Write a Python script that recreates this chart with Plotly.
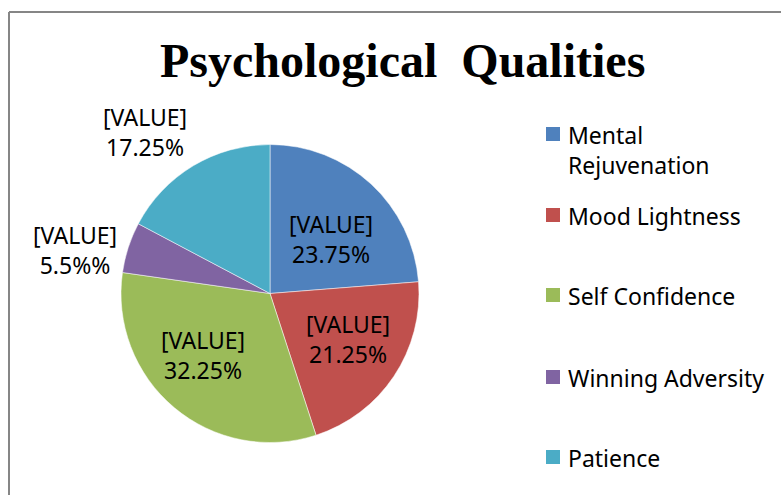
import plotly.graph_objects as go

W, H = 781, 495

qualities = ['Mental Rejuvenation', 'Mood Lightness', 'Self Confidence',
             'Winning Adversity', 'Patience']
legend_names = ['Mental<br>Rejuvenation', 'Mood Lightness', 'Self Confidence',
                'Winning Adversity', 'Patience']
values = [23.75, 21.25, 32.25, 5.5, 17.25]
pct_text = ['23.75%', '21.25%', '32.25%', '5.5%%', '17.25%']
colors = ['#4F81BD', '#C0504D', '#9BBB59', '#8064A2', '#4BACC6']

font_body = 'Noto Sans'

# pie geometry in pixels
cx, cy, r = 270, 293.5, 149
# data label block centres (pixels), placed like the original
label_pos = [(331, 239), (348, 339), (203, 355), (75, 250), (145, 132)]

fig = go.Figure(go.Pie(
    labels=qualities,
    values=values,
    textinfo='none',
    marker=dict(colors=colors, line=dict(color='rgba(255,255,255,0.5)', width=1)),
    sort=False,
    direction='clockwise',
    rotation=0,
    showlegend=False,
    hoverinfo='label+value',
    domain=dict(x=[(cx - r) / W, (cx + r) / W],
                y=[(H - cy - r) / H, (H - cy + r) / H]),
))

annotations = [dict(
    text='<b>Psychological  Qualities</b>',
    x=402 / W, y=1 - 60 / H, xref='paper', yref='paper',
    xanchor='center', yanchor='middle', showarrow=False,
    font=dict(family='Liberation Serif', size=48, color='#000000'),
)]

for t, (px_, py_) in zip(pct_text, label_pos):
    annotations.append(dict(
        text='[VALUE]<br>' + t, x=px_ / W, y=1 - py_ / H,
        xref='paper', yref='paper', xanchor='center', yanchor='middle',
        align='center', showarrow=False,
        font=dict(family=font_body, size=23, color='#000000'),
    ))

shapes = [
    # chart border (left and top only visible)
    dict(type='line', xref='paper', yref='paper',
         x0=9 / W, x1=1.01, y0=1 - 12 / H, y1=1 - 12 / H,
         line=dict(color='#868686', width=2)),
    dict(type='line', xref='paper', yref='paper',
         x0=9 / W, x1=9 / W, y0=1 - 12 / H, y1=-0.01,
         line=dict(color='#868686', width=2)),
]

# legend drawn by hand so the item spacing matches
legend_y = [134, 215, 295, 377, 457]
for name, col, ly in zip(legend_names, colors, legend_y):
    shapes.append(dict(type='rect', xref='paper', yref='paper',
                       x0=546 / W, x1=560 / W,
                       y0=1 - (ly + 7) / H, y1=1 - (ly - 7) / H,
                       fillcolor=col, line=dict(width=0)))
    annotations.append(dict(
        text=name, x=566 / W, y=1 - (ly - 17) / H, xref='paper', yref='paper',
        xanchor='left', yanchor='top', align='left', showarrow=False,
        font=dict(family=font_body, size=23, color='#000000'),
    ))

fig.update_layout(
    width=W, height=H,
    margin=dict(l=0, r=0, t=0, b=0),
    paper_bgcolor='white',
    plot_bgcolor='white',
    annotations=annotations,
    shapes=shapes,
)

fig.write_html("out.html", config={'displayModeBar': False},
               post_script="document.body.style.margin='0';")
